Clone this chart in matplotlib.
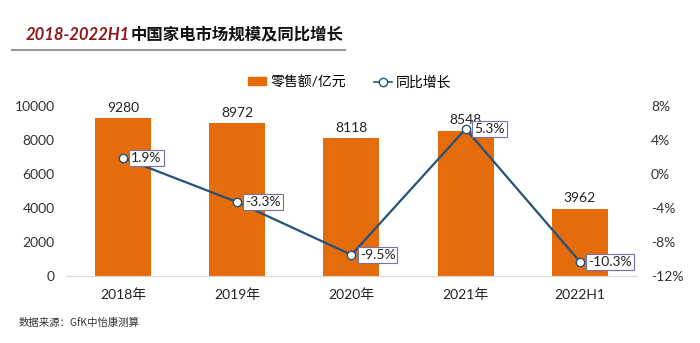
import matplotlib
matplotlib.use('Agg')
import matplotlib.pyplot as plt
from matplotlib.lines import Line2D
from matplotlib.patches import Patch

plt.rcParams['font.family'] = ['Lato', 'Noto Sans CJK SC', 'DejaVu Sans']

years = ['2018年', '2019年', '2020年', '2021年', '2022H1']
sales = [9280, 8972, 8118, 8548, 3962]
growth = [1.9, -3.3, -9.5, 5.3, -10.3]
growth_labels = ['1.9%', '-3.3%', '-9.5%', '5.3%', '-10.3%']
left_ticks = [0, 2000, 4000, 6000, 8000, 10000]
right_ticks = [-12, -8, -4, 0, 4, 8]

bar_color = '#E46C0A'
line_color = '#24527A'

fig = plt.figure(figsize=(7, 3.43), dpi=100)
ax = fig.add_axes([0.094, 0.195, 0.816, 0.496])
x = list(range(len(years)))
ax.bar(x, sales, width=0.49, color=bar_color, zorder=2)
for xi, v in zip(x, sales):
    ax.text(xi, v + 250, str(v), ha='center', va='bottom', fontsize=10, color='#222222')
ax.set_xlim(-0.5, len(years) - 0.5)
ax.set_ylim(0, 10000)
ax.set_yticks(left_ticks)
ax.set_yticklabels([str(t) for t in left_ticks], fontsize=10, color='#333333')
ax.set_xticks(x)
ax.set_xticklabels(years, fontsize=10, color='#222222')
ax.tick_params(length=0, pad=8)
ax.tick_params(axis='x', pad=9)
for s in ['top', 'right', 'left']:
    ax.spines[s].set_visible(False)
ax.spines['bottom'].set_color('#d9d9d9')

ax2 = ax.twinx()
ax2.plot(x, growth, color=line_color, lw=1.6, marker='o', ms=6,
         mfc='white', mec=line_color, mew=1, zorder=3)
for xi, g, lab in zip(x, growth, growth_labels):
    ax2.annotate(lab, (xi, g), xytext=(6, 0), textcoords='offset points',
                 ha='left', va='center', fontsize=10, color='#222222',
                 bbox=dict(boxstyle='square,pad=0.15', fc='white', ec='#7a6fa8', lw=0.8))
ax2.set_ylim(-12, 8)
ax2.set_yticks(right_ticks)
ax2.set_yticklabels([f'{t}%' for t in right_ticks], fontsize=10, color='#333333')
ax2.tick_params(length=0, pad=10)
for s in ['top', 'right', 'left', 'bottom']:
    ax2.spines[s].set_visible(False)

handles = [Patch(color=bar_color),
           Line2D([0], [0], color=line_color, lw=1.2, marker='o', ms=6,
                  mfc='white', mec=line_color)]
fig.legend(handles, ['零售额/亿元', '同比增长'], loc='center', bbox_to_anchor=(0.5, 0.762),
           ncol=2, frameon=False, fontsize=10, handlelength=1.3, handleheight=0.5,
           columnspacing=2.0, handletextpad=0.3)

fig.text(0.036, 0.897, '2018-2022H1', fontsize=12, fontweight='bold', style='italic',
         color='#8B1A1A', va='center')
fig.text(0.186, 0.897, '中国家电市场规模及同比增长', fontsize=11.8, fontweight='heavy',
         color='#111111', va='center', family=['Noto Sans CJK SC'])
fig.add_artist(Line2D([0.017, 0.493], [0.853, 0.853], color='#999999', lw=1.5))
fig.text(0.026, 0.058, '数据来源：GfK中怡康测算', fontsize=7.5, color='#333333',
         va='center', family=['Noto Sans CJK SC'])

fig.savefig('out.png', dpi=100)
